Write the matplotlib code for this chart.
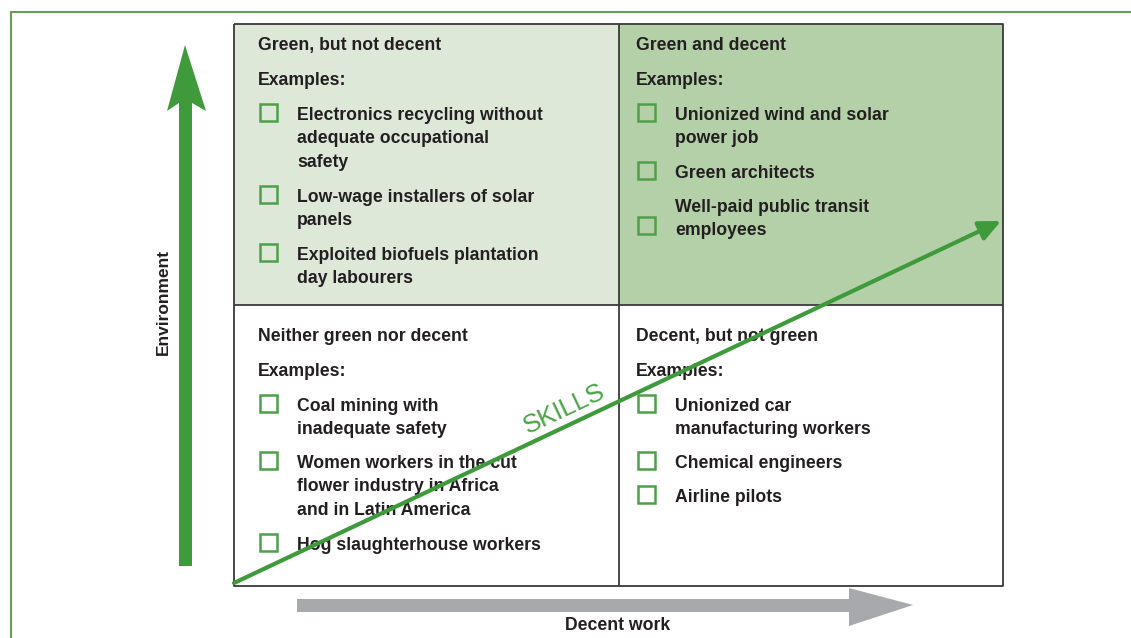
import matplotlib
matplotlib.use('Agg')
import matplotlib.pyplot as plt
from matplotlib.patches import Rectangle, Polygon

# quadrant contents
titles = ['Green, but not decent', 'Green and decent',
          'Neither green nor decent', 'Decent, but not green']
examples_tl = ['Electronics recycling without\nadequate occupational\nsafety',
               'Low-wage installers of solar\npanels',
               'Exploited biofuels plantation\nday labourers']
examples_tr = ['Unionized wind and solar\npower job',
               'Green architects',
               'Well-paid public transit\nemployees']
examples_bl = ['Coal mining with\ninadequate safety',
               'Women workers in the cut\nflower industry in Africa\nand in Latin America',
               'Hog slaughterhouse workers']
examples_br = ['Unionized car\nmanufacturing workers',
               'Chemical engineers',
               'Airline pilots']
y_label = 'Environment'
x_label = 'Decent work'
diag_label = 'SKILLS'

GREEN = '#3f9a3c'
BOX_GREEN = '#4f9f4a'
TXT = '#231f20'
plt.rcParams['font.family'] = ['Liberation Sans', 'DejaVu Sans']

fig = plt.figure(figsize=(11.31, 6.38), dpi=100)
ax = fig.add_axes([0, 0, 1, 1])
ax.set_xlim(0, 1131)
ax.set_ylim(638, 0)
ax.axis('off')

# outer frame
ax.plot([11, 11, 1131], [638, 12, 12], color='#6a9a5c', lw=1.5)

# quadrants
x0, xm, x1 = 234, 619, 1003
y0, ym, y1 = 24, 305, 586
ax.add_patch(Rectangle((x0, y0), xm - x0, ym - y0, fc='#dde8d8', ec='none'))
ax.add_patch(Rectangle((xm, y0), x1 - xm, ym - y0, fc='#b4d0a8', ec='none'))
for xs, ys in [([x0, x1, x1, x0, x0], [y0, y0, y1, y1, y0]),
               ([xm, xm], [y0, y1]), ([x0, x1], [ym, ym])]:
    ax.plot(xs, ys, color='#3a3a3a', lw=1.3, solid_capstyle='butt')

fs = 12.7
line_h = 23.3


def quadrant(xl, ybase, title, items, offsets, box_line=None):
    ax.text(xl, ybase, title, fontsize=fs, fontweight='bold', color=TXT,
            va='baseline', ha='left')
    ax.text(xl, ybase + 35, 'Examples:', fontsize=fs, fontweight='bold',
            color=TXT, va='baseline', ha='left')
    for i, (item, off) in enumerate(zip(items, offsets)):
        yy = ybase + off
        nlines = item.count('\n') + 1
        for k, ln in enumerate(item.split('\n')):
            ax.text(xl + 39, yy + k * line_h, ln, fontsize=fs,
                    fontweight='bold', color=TXT, va='baseline', ha='left')
        by = yy
        if box_line is not None and box_line[i]:
            by = yy + (nlines - 1) * line_h - 2
        ax.add_patch(Rectangle((xl + 2, by - 16), 17, 17, fc='none',
                               ec=BOX_GREEN, lw=1.8))


quadrant(258, 50, titles[0], examples_tl, [70, 152, 210])
quadrant(636, 50, titles[1], examples_tr, [70, 128, 162], box_line=[0, 0, 1])
quadrant(258, 341, titles[2], examples_bl, [70, 127, 209])
quadrant(636, 341, titles[3], examples_br, [70, 127, 161])

# vertical environment arrow
ax.add_patch(Polygon([(179, 566), (179, 103), (167, 111), (185, 45),
                      (206, 111), (192, 103), (192, 566)],
                     closed=True, fc=GREEN, ec='none'))
ax.text(163, 302, y_label, rotation=90, fontsize=12.5, fontweight='bold',
        color=TXT, ha='center', va='center')

# horizontal decent work arrow
ax.add_patch(Polygon([(297, 599), (849, 599), (849, 588), (913, 605),
                      (849, 626), (849, 612), (297, 612)],
                     closed=True, fc='#a7a9ac', ec='none'))
ax.text(618, 626, x_label, fontsize=12.7, fontweight='bold', color=TXT,
        ha='center', va='center')

# skills diagonal
ax.annotate('', xy=(1001, 221), xytext=(234, 583),
            arrowprops=dict(arrowstyle='-|>,head_length=1.3,head_width=0.6',
                            color=GREEN, lw=3, shrinkA=0, shrinkB=0))
ax.text(564, 409, diag_label, rotation=25.3, fontsize=18.5, color='#4aa545',
        ha='center', va='center', rotation_mode='anchor')

fig.savefig('out.png', dpi=100)
